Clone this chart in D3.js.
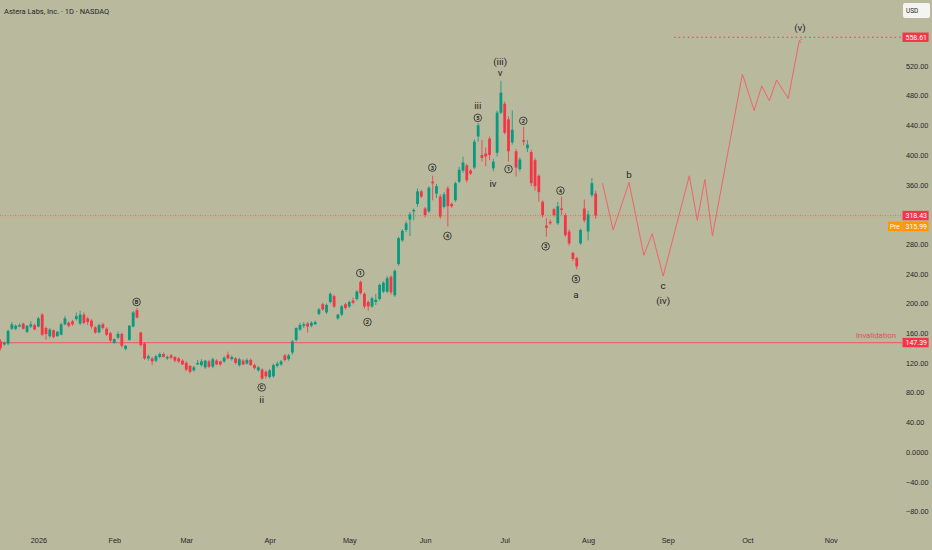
<!DOCTYPE html>
<html>
<head>
<meta charset="utf-8">
<script src="https://cdn.jsdelivr.net/npm/d3@7"></script>
<style>
  html, body { margin: 0; padding: 0; background: #b9b99e; }
  svg { display: block; font-family: Roboto, "Liberation Sans", sans-serif; }
</style>
</head>
<body>
<svg id="chart" width="932" height="550"></svg>
<script>
// Daily candles as [open, high, low, close], one per trading day
const ohlc = [
  [149,152,137,140],[145,149,143,147],[146,165,144,163],[166,175,164,172],[166,172,164,170],
  [169,173,168,171],[173,174,165,166],[162,171,160,170],[169,176,167,172],[171,173,164,165],
  [169,182,168,180],[185,187,156,158],[167,169,151,159],[156,167,154,165],[164,165,153,155],
  [156,163,155,162],[158,174,157,172],[172,183,171,180],[174,176,168,170],[176,178,170,172],
  [179,188,177,183],[173,190,171,185],[185,188,172,174],[180,182,171,175],[177,179,166,169],
  [168,170,159,161],[161,173,160,171],[172,174,165,167],[166,168,156,158],[160,162,148,150],
  [147,153,146,152],[154,162,152,159],[159,161,141,143],[139,144,137,143],[151,171,150,170],
  [169,190,168,188],[191,194,180,181],[161,162,142,144],[146,148,124,126],[126,131,123,129],
  [126,128,117,122],[123,131,121,129],[128,134,126,132],[132,134,127,128],[126,130,124,128],
  [130,132,125,127],[128,129,121,123],[126,128,120,122],[123,125,117,118],[120,122,109,111],
  [116,117,106,108],[110,116,108,114],[118,124,117,120],[117,125,115,122],[114,124,112,123],
  [122,124,113,115],[115,127,113,125],[123,125,117,118],[122,123,116,118],[122,129,120,127],
  [131,135,125,126],[125,130,123,128],[126,128,118,120],[117,127,115,125],[123,125,117,118],
  [119,126,118,124],[124,126,116,117],[117,119,111,113],[110,116,108,114],[111,113,97,99],
  [108,110,99,102],[101,112,99,110],[102,119,100,117],[116,122,114,119],[118,124,116,122],
  [130,132,122,124],[125,132,123,130],[134,151,131,149],[151,168,149,167],[165,174,163,171],
  [170,175,167,172],[173,175,161,169],[170,176,168,174],[172,177,171,175],[186,194,184,192],
  [199,201,190,192],[188,200,186,198],[202,215,200,213],[210,212,194,196],[180,186,178,185],
  [185,198,183,196],[199,201,192,194],[196,204,194,202],[204,208,199,201],[206,218,204,216],
  [229,231,212,214],[213,215,193,196],[202,204,190,196],[196,209,194,207],[202,213,198,205],
  [206,227,204,225],[216,230,214,228],[216,237,214,234],[236,238,212,215],[211,246,209,244],
  [253,290,251,288],[285,300,283,298],[299,311,296,308],[313,323,291,320],[324,328,312,326],
  [334,355,330,351],[351,353,342,344],[328,330,316,319],[324,358,322,356],[364,372,339,362],
  [348,361,342,358],[344,347,314,317],[330,350,328,347],[355,358,304,331],[334,336,329,331],
  [339,364,337,362],[364,384,362,380],[379,398,376,390],[386,388,363,366],[379,381,373,375],
  [383,421,381,418],[425,443,418,440],[400,420,391,396],[402,410,385,398],[422,425,393,400],
  [382,395,378,391],[403,460,398,457],[457,500,455,484],[469,472,428,430],[448,452,391,405],
  [417,460,414,434],[405,408,371,383],[381,397,378,394],[420,438,413,418],[409,420,404,414],
  [404,407,358,362],[393,396,352,358],[372,374,337,350],[337,339,316,319],[305,315,290,302],
  [310,313,306,308],[327,329,317,319],[308,337,306,331],[328,344,319,326],[319,322,290,292],
  [297,300,278,281],[268,270,257,260],[261,263,246,250],[281,301,279,299],[328,340,309,312],
  [297,325,285,320],[346,369,343,362],[348,352,314,318.43]
];

// Month labels on the time axis (bar index of first trading day)
const monthTicks  = [10, 30, 49, 71, 92, 112, 133, 155, 176, 197, 219];
const monthLabels = ["2026", "Feb", "Mar", "Apr", "May", "Jun", "Jul", "Aug", "Sep", "Oct", "Nov"];

// Price axis ticks (320 and 560 sit under the price tags)
const priceTicks = [-80, -40, 0, 40, 80, 120, 160, 200, 240, 280, 360, 400, 440, 480, 520];

// Key levels
const lastPrice = 318.43;
const prePrice = 315.99;
const invalidation = 147.39;
const target = 558.61;
const targetStart = 177.7;

// Projected path [bar index, price]
const projection = [
  [158.8,362],[161.6,299],[165.8,363],[169.7,265],[171.9,294],[174.8,237],
  [181.7,372],[183.8,312],[185.8,367],[187.8,291],[195.7,509],[198.8,460],
  [200.8,493],[202.8,473],[204.7,501],[207.8,476],[210.7,554]
];

// Wave labels [text, bar index, price]
const waveLabels = [
  ["ii", 68.9, 71], ["iii", 125.9, 467], ["(iii)", 131.8, 526], ["v", 131.8, 511],
  ["iv", 129.9, 361], ["a", 151.8, 212], ["b", 165.8, 374], ["c", 174.8, 224],
  ["(iv)", 174.8, 204], ["(v)", 210.9, 571]
];
const circledLabels = [
  ["B", 35.9, 202], ["C", 68.9, 87], ["1", 94.9, 241], ["2", 96.8, 175],
  ["3", 113.9, 383], ["4", 117.9, 291], ["5", 125.9, 450], ["1", 134, 381],
  ["2", 137.9, 446], ["3", 143.8, 277], ["4", 147.7, 352], ["5", 151.8, 233]
];

const upColour = "#089981";
const downColour = "#f23645";
const textColour = "#262626";
const lineRight = 902;

const svg = d3.select("#chart");
svg.append("rect").attr("width", 932).attr("height", 550).attr("fill", "#b9b99e");

// Scales: bar index -> x, price -> y
const x = d3.scaleLinear().domain([0, 230]).range([0.5, 0.5 + 230 * 3.791]);
const y = d3.scaleLinear().domain([-80, 520]).range([511.4, 65.9]);

// Level lines
svg.append("line")
  .attr("x1", 0).attr("x2", lineRight)
  .attr("y1", y(invalidation)).attr("y2", y(invalidation))
  .attr("stroke", "#e8686c").attr("stroke-width", 1.3);
svg.append("line")
  .attr("x1", 0).attr("x2", lineRight)
  .attr("y1", y(lastPrice)).attr("y2", y(lastPrice))
  .attr("stroke", "#f23645").attr("stroke-opacity", 0.55)
  .attr("stroke-dasharray", "1,1.5");
svg.append("line")
  .attr("x1", 0).attr("x2", lineRight)
  .attr("y1", y(prePrice)).attr("y2", y(prePrice))
  .attr("stroke", "#ff9800").attr("stroke-opacity", 0.6)
  .attr("stroke-dasharray", "1,1.5");
svg.append("line")
  .attr("x1", x(targetStart)).attr("x2", lineRight)
  .attr("y1", y(target)).attr("y2", y(target))
  .attr("stroke", "#f23645").attr("stroke-width", 1.2)
  .attr("stroke-dasharray", "1.5,3");

// Candles
const candle = svg.append("g").selectAll("g")
  .data(ohlc)
  .join("g")
  .attr("fill", d => d[3] >= d[0] ? upColour : downColour)
  .attr("stroke", d => d[3] >= d[0] ? upColour : downColour);
candle.append("line")
  .attr("x1", (d, i) => x(i)).attr("x2", (d, i) => x(i))
  .attr("y1", d => y(d[1])).attr("y2", d => y(d[2]))
  .attr("stroke-width", 0.8);
candle.append("rect")
  .attr("x", (d, i) => x(i) - 1.4)
  .attr("width", 2.8)
  .attr("y", d => y(Math.max(d[0], d[3])))
  .attr("height", d => Math.max(0.8, Math.abs(y(d[0]) - y(d[3]))))
  .attr("stroke", "none");

// Projection path with arrow
svg.append("defs").append("marker")
  .attr("id", "arrow")
  .attr("viewBox", "0 0 10 10")
  .attr("refX", 5).attr("refY", 1)
  .attr("markerWidth", 5).attr("markerHeight", 5)
  .attr("orient", "auto-start-reverse")
  .append("path")
  .attr("d", "M1,6 L5,1 L9,6")
  .attr("fill", "none").attr("stroke", "#ef6468").attr("stroke-width", 1.6);
svg.append("path")
  .datum(projection)
  .attr("d", d3.line().x(d => x(d[0])).y(d => y(d[1])))
  .attr("fill", "none")
  .attr("stroke", "#ef6468")
  .attr("stroke-width", 1)
  .attr("marker-end", "url(#arrow)");

// Wave labels
svg.append("g").selectAll("text")
  .data(waveLabels)
  .join("text")
  .attr("x", d => x(d[1])).attr("y", d => y(d[2]))
  .attr("dy", "0.35em")
  .attr("text-anchor", "middle")
  .attr("font-size", 9.8)
  .attr("fill", textColour)
  .text(d => d[0]);
const circ = svg.append("g").selectAll("g")
  .data(circledLabels)
  .join("g")
  .attr("transform", d => `translate(${x(d[1])},${y(d[2])})`);
circ.append("circle")
  .attr("r", 3.8)
  .attr("fill", "none")
  .attr("stroke", textColour)
  .attr("stroke-width", 0.8);
circ.append("text")
  .attr("dy", "0.36em")
  .attr("text-anchor", "middle")
  .attr("font-size", 5.6)
  .attr("font-weight", "bold")
  .attr("fill", textColour)
  .text(d => d[0]);

// Invalidation text
svg.append("text")
  .attr("x", 896).attr("y", y(invalidation) - 7)
  .attr("dy", "0.35em")
  .attr("text-anchor", "end")
  .attr("font-size", 7.8)
  .attr("fill", "#e04f55")
  .text("Invalidation");

// Price axis
const yAxis = svg.append("g")
  .attr("transform", "translate(903,0)")
  .call(d3.axisRight(y)
    .tickValues(priceTicks)
    .tickSize(0)
    .tickPadding(3)
    .tickFormat(d => d === 0 ? "0.0000" : d3.format(".2f")(d)));
yAxis.select(".domain").remove();
yAxis.selectAll("text").attr("font-size", 7.3).attr("fill", textColour);

// Time axis
const xAxis = svg.append("g")
  .attr("transform", "translate(0,536)")
  .call(d3.axisBottom(x)
    .tickValues(monthTicks)
    .tickSize(0)
    .tickPadding(2)
    .tickFormat((d, k) => monthLabels[k]));
xAxis.select(".domain").remove();
xAxis.selectAll("text").attr("font-size", 7.3).attr("fill", textColour);

// Price tags on the axis
function tag(value, colour, dyOffset, label) {
  let cy = y(value) + dyOffset;
  let g = svg.append("g");
  let left = label ? 888 : 902.5;
  g.append("rect")
    .attr("x", left).attr("y", cy - 4.7)
    .attr("width", 928.6 - left).attr("height", 9.4)
    .attr("fill", colour);
  if (label) {
    g.append("line")
      .attr("x1", 902).attr("x2", 902)
      .attr("y1", cy - 4.7).attr("y2", cy + 4.7)
      .attr("stroke", "#b9b99e").attr("stroke-width", 0.6);
    g.append("text")
      .attr("x", 890).attr("y", cy).attr("dy", "0.35em")
      .attr("font-size", 6.5).attr("fill", "#fff")
      .text(label);
  }
  g.append("text")
    .attr("x", 905.5).attr("y", cy).attr("dy", "0.35em")
    .attr("font-size", 7).attr("fill", "#fff")
    .text(d3.format(".2f")(value));
}
tag(target, "#f23645", 0);
tag(lastPrice, "#f23645", 0);
tag(prePrice, "#ff9800", 9, "Pre");
tag(invalidation, "#f23645", 0);

// Currency box
svg.append("rect")
  .attr("x", 903).attr("y", 3).attr("width", 27).attr("height", 15)
  .attr("rx", 2).attr("fill", "#f4f4f0");
svg.append("text")
  .attr("x", 906).attr("y", 10.5).attr("dy", "0.35em")
  .attr("font-size", 6.5).attr("fill", textColour)
  .text("USD");

// Title
svg.append("text")
  .attr("x", 4).attr("y", 11).attr("dy", "0.35em")
  .attr("font-size", 7.5).attr("fill", textColour)
  .text("Astera Labs, Inc. · 1D · NASDAQ");
</script>
</body>
</html>
